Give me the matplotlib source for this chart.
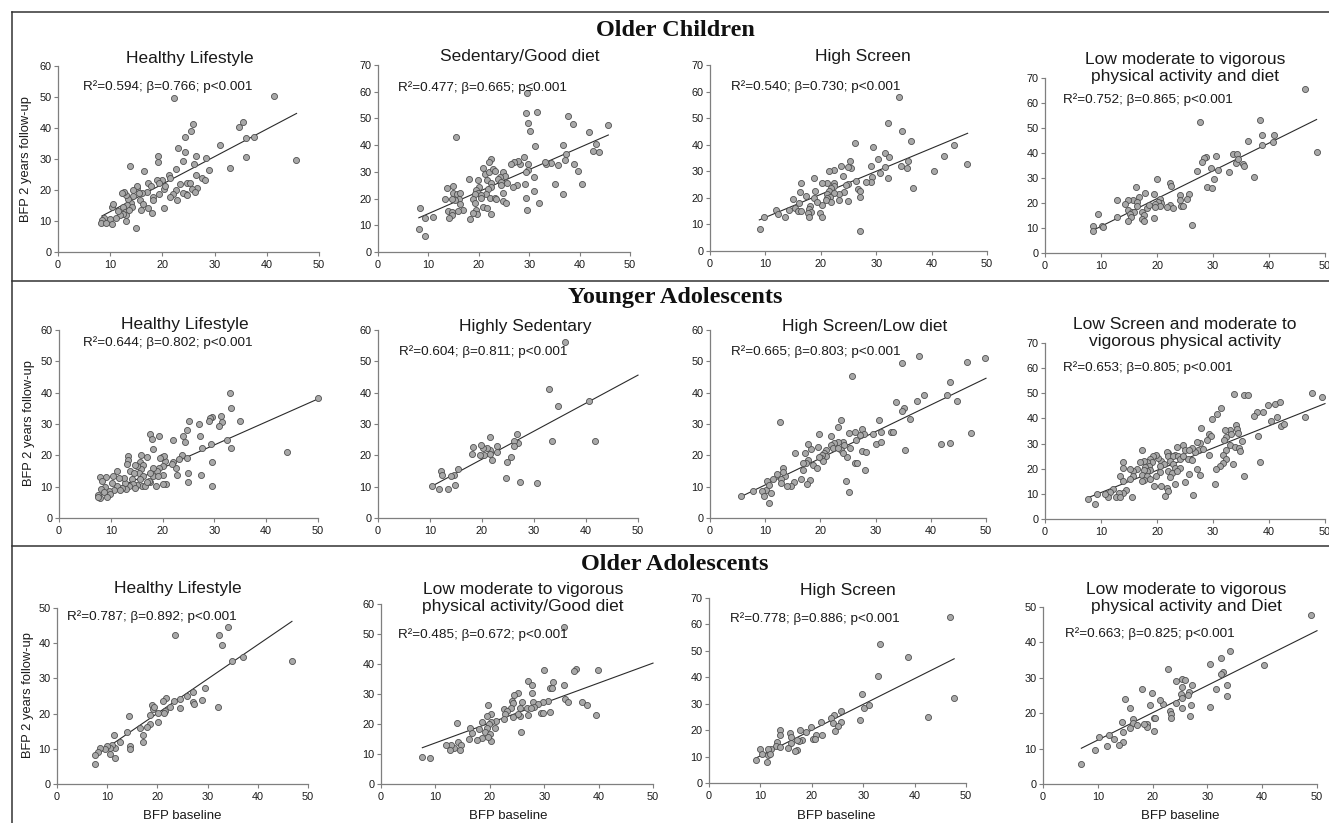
import matplotlib
matplotlib.use('Agg')
import matplotlib.pyplot as plt
from matplotlib.lines import Line2D

plt.rcParams['font.family'] = ['Liberation Sans', 'DejaVu Sans']

# ---------------- DATA (BFP baseline, BFP 2 years follow-up) ----------------
oc_healthy = [(22.2,49.6),(41.3,50.4),(45.5,29.8),(25.8,41.3),(25.4,39.1),(24.4,37.2),(23.0,33.7),(19.2,30.9),(19.2,29.1),(13.8,27.8),(16.5,26.2),(31.1,34.5),(34.7,40.2),(35.4,41.8),(36.1,36.9),(37.5,37.0),(36.1,30.5),(32.9,27.2),(28.4,30.2),(29.0,26.6),(26.5,31.0),(26.1,28.3),(24.3,32.1),(24.0,29.3),(22.7,26.9),(21.3,24.8),(21.5,23.9),(20.0,23.2),(19.0,23.2),(19.4,22.1),(17.3,22.3),(17.9,21.2),(23.3,21.8),(24.7,22.3),(25.2,22.3),(26.5,24.8),(27.5,23.9),(28.1,23.2),(26.6,20.5),(25.6,20.3),(26.2,19.2),(24.6,18.6),(23.9,18.9),(22.6,19.9),(22.1,18.6),(21.4,17.8),(22.8,16.9),(24.7,18.3),(20.3,20.2),(20.5,21.3),(19.4,18.6),(18.2,17.8),(18.2,16.7),(17.0,19.4),(16.0,19.1),(15.1,20.5),(15.2,21.2),(14.4,19.9),(14.3,18.0),(15.6,18.9),(15.7,16.7),(16.2,15.4),(15.9,13.7),(17.3,14.3),(18.1,12.7),(20.3,14.3),(13.9,15.8),(13.5,17.0),(13.0,18.5),(12.6,19.4),(12.3,18.9),(13.3,15.1),(12.5,14.5),(14.1,14.5),(12.8,12.9),(13.0,11.9),(12.5,12.4),(11.9,11.9),(11.1,11.1),(13.0,10.0),(10.3,14.5),(10.5,15.6),(9.9,10.8),(8.8,11.1),(8.4,10.2),(8.2,9.4),(9.2,9.4),(10.3,8.9),(14.9,7.9),(11.5,13.3),(13.6,13.7)]

oc_sedentary = [(29.6,59.6),(29.3,51.9),(31.5,52.5),(29.8,48.4),(30.1,45.3),(37.7,50.9),(38.7,48.1),(31.1,39.8),(15.4,42.9),(41.9,44.8),(45.7,47.5),(36.7,40.0),(43.2,40.6),(42.7,37.9),(43.8,37.3),(37.3,36.5),(37.1,34.6),(38.9,32.9),(39.6,30.4),(40.5,25.4),(35.1,25.6),(36.8,21.6),(35.8,32.5),(34.4,33.5),(33.4,32.8),(33.2,33.8),(29.0,35.4),(29.8,33.1),(29.8,30.6),(29.3,29.8),(31.0,28.1),(29.1,25.4),(31.0,22.9),(31.9,18.4),(29.3,20.4),(29.6,15.9),(28.1,32.8),(27.8,34.1),(26.9,33.8),(26.4,32.9),(27.5,25.0),(26.8,24.4),(24.8,29.8),(25.2,28.4),(24.2,28.1),(23.8,27.5),(24.5,26.3),(24.5,25.0),(25.5,25.9),(24.8,21.9),(24.8,19.0),(25.4,18.4),(22.5,34.8),(22.0,33.8),(20.9,31.3),(21.2,29.1),(22.0,30.0),(22.8,31.0),(23.2,30.4),(21.7,27.1),(22.5,25.9),(22.4,24.4),(21.9,23.4),(21.5,21.6),(22.2,20.4),(23.2,20.4),(23.5,19.8),(19.9,27.1),(18.0,27.2),(20.0,24.4),(19.5,23.1),(19.9,22.1),(20.4,21.3),(19.2,21.6),(18.9,20.0),(19.2,18.4),(20.5,20.4),(20.9,16.9),(21.7,16.3),(22.4,14.1),(19.5,15.9),(19.7,14.4),(18.9,14.6),(18.2,12.5),(14.9,24.6),(13.7,23.8),(13.2,20.0),(14.9,21.9),(15.6,21.6),(16.2,22.1),(16.0,20.0),(15.2,19.4),(14.7,20.0),(16.2,18.1),(16.9,15.9),(15.9,15.4),(13.9,15.4),(14.6,14.8),(14.7,13.8),(14.0,12.8),(8.3,16.5),(9.4,12.8),(11.0,13.1),(8.1,8.5),(9.4,6.0)]

oc_screen = [(34.1,58.1),(32.2,48.1),(34.6,45.3),(36.3,41.4),(26.2,40.5),(29.4,39.3),(44.0,39.9),(42.3,35.9),(46.4,32.7),(40.5,30.1),(36.7,23.8),(31.6,36.8),(30.3,34.5),(32.3,35.3),(35.7,33.9),(34.5,32.1),(35.6,31.4),(31.6,31.7),(29.1,32.1),(30.6,29.2),(29.2,28.0),(29.1,25.8),(28.2,26.1),(32.2,27.4),(26.4,26.5),(25.3,34.0),(25.5,31.1),(24.9,31.7),(23.7,32.0),(24.0,28.2),(24.9,25.1),(24.6,24.8),(24.1,22.3),(23.3,21.5),(23.2,19.2),(24.9,18.8),(26.8,23.2),(27.0,22.7),(27.1,20.2),(27.1,7.7),(22.3,30.5),(21.4,30.1),(22.3,25.5),(22.4,24.6),(21.1,25.5),(20.3,25.5),(21.8,23.6),(21.5,22.6),(22.3,22.0),(21.2,21.5),(21.7,20.2),(21.1,19.8),(21.9,18.6),(20.9,19.2),(20.3,17.3),(19.9,14.4),(20.2,12.9),(18.8,27.4),(18.9,22.6),(18.8,19.8),(19.3,18.6),(17.3,20.8),(16.4,25.5),(16.2,22.3),(15.0,19.6),(15.4,16.3),(16.1,18.2),(15.8,15.2),(16.4,15.2),(18.1,17.0),(17.9,15.7),(18.2,14.6),(17.6,14.2),(17.9,12.9),(14.3,15.4),(13.5,12.9),(11.9,15.4),(12.2,13.8),(9.7,12.9),(9.0,8.2)]

oc_lowmvpa_diet = [(46.4,65.5),(27.7,52.5),(38.4,53.1),(36.3,44.9),(38.8,47.1),(40.9,47.1),(38.8,43.4),(40.8,44.5),(48.5,40.5),(37.4,30.5),(33.6,39.8),(34.3,39.8),(34.1,36.1),(34.5,37.8),(35.3,35.5),(35.5,34.9),(30.5,38.8),(28.7,38.5),(28.4,38.1),(28.0,36.5),(29.6,34.1),(30.9,33.2),(32.9,32.3),(27.2,32.8),(30.2,29.6),(29.0,26.6),(29.8,25.9),(22.3,27.9),(22.5,26.8),(20.0,29.6),(24.1,23.2),(25.8,23.6),(24.1,21.2),(25.3,21.5),(24.3,19.0),(24.7,18.9),(22.3,19.3),(22.8,17.9),(21.7,18.6),(20.5,21.6),(20.8,20.2),(20.1,20.6),(19.6,19.5),(20.5,19.0),(19.6,18.3),(19.5,23.6),(19.5,13.9),(17.9,23.9),(16.2,26.3),(16.7,22.6),(15.8,21.2),(14.9,21.2),(14.3,19.7),(16.5,20.6),(16.4,19.0),(14.9,17.3),(15.5,16.6),(15.9,16.3),(15.1,15.7),(15.4,14.6),(14.9,12.9),(17.4,16.6),(17.6,15.3),(18.3,17.9),(18.5,19.2),(17.4,13.7),(17.7,13.0),(12.9,21.2),(12.8,14.3),(9.4,15.5),(8.5,10.9),(8.5,9.0),(10.1,10.9),(10.4,10.4),(26.3,11.3)]

ya_healthy = [(50.0,38.2),(33.0,40.0),(33.3,35.0),(35.0,31.0),(31.3,32.6),(31.4,30.5),(30.8,29.5),(29.6,32.1),(29.1,31.8),(29.0,31.1),(25.0,31.0),(27.0,29.9),(32.4,24.9),(33.3,22.3),(27.7,22.3),(27.2,26.2),(24.7,28.1),(24.0,26.3),(24.3,24.2),(22.1,24.9),(29.3,23.6),(29.6,17.8),(29.6,10.1),(44.1,21.1),(27.4,13.8),(24.9,14.3),(24.9,11.5),(22.6,15.9),(22.7,13.8),(23.7,20.2),(24.7,19.3),(23.1,18.8),(22.1,18.0),(21.9,17.2),(20.5,18.3),(19.4,26.3),(17.6,26.9),(17.9,25.2),(18.2,22.1),(16.9,19.6),(19.8,19.4),(20.3,19.9),(19.5,19.0),(20.1,16.5),(19.4,16.1),(18.9,14.9),(18.2,15.9),(18.2,13.5),(17.5,14.5),(20.1,13.8),(19.2,13.5),(20.7,10.9),(20.1,10.9),(18.7,10.3),(17.6,11.4),(17.3,11.9),(15.8,20.2),(15.7,18.0),(16.2,17.0),(15.8,15.6),(15.0,16.5),(14.7,17.0),(15.5,14.3),(16.2,13.3),(15.7,12.4),(16.0,10.3),(15.0,10.4),(16.6,10.1),(16.9,11.4),(13.4,19.9),(13.4,18.6),(13.2,17.2),(13.7,14.9),(14.4,14.3),(14.1,12.5),(14.2,10.9),(14.6,9.6),(13.6,10.1),(12.8,11.1),(12.5,12.7),(13.0,9.3),(12.1,9.6),(11.2,10.1),(11.8,8.8),(11.2,14.9),(11.5,12.7),(10.5,13.3),(10.2,11.1),(10.7,8.8),(9.6,8.5),(8.9,9.9),(9.1,13.1),(8.0,13.1),(8.3,11.7),(8.2,9.2),(8.6,8.3),(9.8,7.6),(7.6,7.4),(8.0,6.4),(7.5,6.7),(9.2,6.7)]

ya_sedentary = [(36.0,56.1),(32.8,41.2),(34.7,35.9),(40.5,37.2),(33.4,24.6),(41.8,24.6),(30.5,11.1),(27.3,11.5),(24.6,12.7),(26.8,26.9),(27.0,23.9),(26.2,24.6),(26.2,23.1),(25.5,19.4),(24.9,17.8),(21.5,26.0),(22.8,23.0),(22.9,21.0),(22.0,18.6),(21.5,21.8),(20.9,22.3),(20.2,22.5),(19.9,23.4),(21.5,20.5),(20.4,20.2),(19.6,20.0),(18.3,22.6),(18.0,20.5),(15.4,15.6),(14.6,13.6),(14.1,13.5),(14.9,10.6),(12.2,15.1),(12.4,13.8),(11.7,9.2),(13.4,9.2),(10.3,10.3)]

ya_screen_lowdiet = [(37.8,51.7),(49.8,51.2),(46.6,49.9),(34.7,49.4),(25.8,45.3),(43.4,43.5),(42.9,39.4),(44.7,37.3),(38.7,39.2),(37.5,37.3),(33.7,37.1),(35.1,35.2),(34.8,34.1),(36.2,31.6),(47.2,27.0),(41.8,23.5),(43.5,23.8),(35.4,21.6),(30.7,31.2),(31.0,27.5),(32.7,27.5),(33.1,27.5),(29.6,26.8),(30.1,23.5),(30.9,24.3),(23.7,31.2),(23.1,29.1),(12.7,30.5),(27.5,28.4),(27.9,26.8),(27.2,26.4),(26.3,27.3),(25.1,27.2),(26.4,24.8),(27.5,21.4),(28.3,21.1),(26.2,17.7),(26.6,17.4),(28.1,15.2),(25.4,22.5),(24.8,19.5),(24.1,24.3),(24.3,23.2),(23.7,21.6),(24.1,20.6),(23.1,24.3),(22.5,23.8),(21.9,26.1),(21.9,23.2),(22.2,22.2),(23.1,22.2),(21.1,21.6),(20.7,20.9),(21.0,19.8),(20.2,20.0),(20.1,19.0),(20.4,18.2),(19.8,19.5),(19.7,26.7),(24.6,11.8),(25.2,8.3),(19.5,22.7),(18.3,21.9),(17.8,23.6),(17.2,20.9),(17.7,18.4),(17.4,17.4),(16.9,17.4),(18.6,16.8),(19.4,16.1),(16.8,15.4),(16.5,12.6),(18.2,12.0),(17.6,11.0),(15.4,20.6),(15.2,11.5),(14.7,10.2),(13.5,13.4),(13.2,15.8),(13.2,14.7),(14.0,10.2),(12.9,12.4),(12.1,13.9),(11.5,12.4),(12.9,11.3),(10.3,11.8),(10.2,8.8),(10.6,10.4),(9.5,8.5),(9.7,7.0),(11.1,8.1),(10.7,4.8),(7.7,8.5),(5.7,7.0)]

ya_lowscreen_mvpa = [(47.7,50.1),(49.5,48.5),(33.8,49.9),(35.5,49.5),(36.3,49.5),(31.5,44.2),(30.7,41.8),(29.9,39.8),(39.9,45.5),(41.0,45.8),(42.0,46.6),(37.8,42.4),(39.0,42.6),(37.3,40.9),(41.4,40.6),(40.3,38.9),(42.1,36.9),(42.6,37.9),(46.4,40.6),(38.1,33.2),(38.4,22.5),(34.1,37.3),(34.2,35.9),(34.4,34.2),(33.0,35.5),(32.1,35.3),(33.2,34.0),(32.4,32.5),(31.9,31.6),(35.1,31.2),(33.0,29.6),(33.9,28.5),(34.7,28.2),(34.9,26.9),(32.4,27.6),(31.8,25.6),(32.3,24.0),(31.7,22.3),(31.3,21.0),(30.5,19.9),(33.5,22.0),(35.5,17.0),(30.4,14.1),(29.2,34.0),(29.7,32.9),(28.9,31.6),(27.9,36.2),(27.7,30.2),(27.1,30.6),(27.4,27.6),(26.8,26.5),(28.2,27.8),(29.2,25.6),(26.2,28.4),(27.1,19.9),(27.7,17.6),(24.6,29.6),(25.0,27.6),(25.7,27.6),(25.6,23.9),(26.2,23.6),(25.8,18.0),(25.0,14.6),(26.4,9.7),(23.5,28.5),(23.2,25.6),(22.0,26.3),(21.7,26.5),(22.0,25.2),(22.9,24.9),(23.8,24.9),(24.1,23.9),(24.7,24.9),(22.3,22.9),(22.9,22.0),(23.2,20.3),(24.1,20.3),(22.0,19.0),(22.6,18.3),(23.5,19.2),(22.3,16.9),(23.3,14.1),(20.8,22.9),(21.3,22.0),(20.2,24.3),(19.9,25.6),(19.3,25.2),(20.5,21.0),(20.5,18.6),(19.9,17.2),(20.8,13.0),(21.7,12.3),(22.0,11.3),(21.4,9.3),(19.5,13.0),(18.8,23.9),(19.1,22.5),(18.2,22.5),(17.6,22.9),(17.0,22.5),(18.5,21.0),(17.9,20.7),(18.8,19.6),(18.2,19.0),(17.6,19.4),(17.3,17.6),(18.2,17.0),(18.8,15.9),(17.6,15.6),(17.3,15.0),(17.4,27.3),(16.4,19.9),(15.8,19.0),(15.2,20.0),(15.7,17.0),(15.2,15.9),(15.5,8.6),(14.0,22.5),(13.9,20.3),(13.4,17.0),(13.9,15.3),(14.5,11.7),(14.0,10.3),(13.3,10.3),(12.7,8.8),(13.4,8.8),(12.2,11.9),(11.6,10.7),(11.3,8.8),(10.7,10.1),(9.2,9.9),(8.9,6.0),(7.6,8.1)]

oa_healthy = [(34.0,44.6),(32.3,42.2),(23.5,42.2),(32.8,39.4),(34.9,35.0),(37.1,36.2),(46.8,35.0),(29.5,27.4),(27.0,26.1),(25.8,24.9),(24.5,24.2),(23.3,23.7),(21.8,24.4),(21.2,23.7),(27.0,23.4),(27.2,22.8),(28.8,23.9),(24.5,21.7),(32.1,21.8),(22.6,22.0),(18.9,22.5),(19.2,21.3),(19.3,22.0),(21.5,20.8),(21.3,20.1),(20.2,20.1),(18.5,19.6),(20.2,17.5),(18.5,17.0),(18.0,16.3),(16.6,15.8),(17.2,13.9),(17.2,12.0),(14.4,19.4),(13.9,14.7),(14.6,10.9),(14.6,9.9),(11.3,13.9),(12.6,11.9),(11.6,10.3),(10.9,11.1),(10.6,10.3),(9.9,10.9),(9.6,10.0),(8.6,10.2),(8.1,9.2),(7.6,8.1),(10.6,8.5),(11.6,7.3),(7.6,5.6)]

oa_lowmvpa_gooddiet = [(33.7,52.2),(30.0,38.1),(35.9,38.4),(35.5,37.8),(39.9,38.1),(27.1,34.4),(27.7,33.1),(31.7,34.0),(31.1,32.0),(31.5,32.0),(33.7,33.1),(27.7,30.5),(25.1,30.5),(24.5,29.7),(24.0,27.8),(24.2,26.9),(25.9,27.5),(27.9,27.5),(33.8,28.4),(34.4,27.5),(36.9,27.5),(37.9,26.4),(39.6,23.1),(30.7,27.8),(29.8,27.3),(28.9,26.7),(28.2,25.8),(25.5,25.5),(23.9,25.5),(22.7,24.9),(23.1,24.4),(26.8,25.3),(27.6,25.3),(29.5,23.8),(29.8,23.6),(31.1,23.9),(27.0,23.1),(25.5,22.7),(25.1,23.4),(24.3,22.5),(22.8,23.3),(22.7,21.6),(25.7,17.5),(21.1,21.0),(19.7,26.4),(20.2,23.3),(19.4,22.7),(20.2,20.8),(20.9,18.6),(19.9,20.0),(19.4,18.6),(19.1,17.3),(20.1,16.6),(20.2,14.4),(19.7,15.8),(18.5,20.8),(18.1,18.3),(18.5,15.5),(17.6,14.7),(16.4,18.8),(16.7,16.9),(16.1,14.9),(13.9,20.5),(14.2,14.1),(14.7,13.0),(13.5,12.1),(12.8,13.0),(11.9,13.0),(12.7,11.5),(14.5,11.4),(7.6,9.1),(9.0,8.8)]

oa_screen = [(46.9,62.8),(33.2,52.6),(38.7,47.5),(32.9,40.4),(47.6,32.2),(29.8,33.7),(30.1,28.4),(31.1,29.4),(42.6,25.0),(29.3,24.0),(25.7,27.4),(24.4,25.9),(23.8,24.6),(25.6,23.2),(24.1,22.7),(21.7,23.1),(25.1,21.4),(24.5,19.5),(21.9,18.0),(20.9,18.3),(19.8,21.1),(18.9,19.3),(17.8,19.9),(20.2,16.6),(20.6,16.6),(18.1,16.1),(17.5,15.8),(17.2,16.4),(15.7,18.9),(15.9,17.4),(16.0,15.1),(15.4,13.2),(17.2,12.6),(16.7,12.0),(13.8,19.9),(13.9,18.0),(13.3,15.4),(13.1,14.1),(13.8,13.6),(12.0,12.9),(11.4,12.9),(11.5,10.7),(11.8,11.1),(9.9,12.9),(10.4,11.1),(9.2,8.8),(11.3,7.9)]

oa_lowmvpa_diet = [(48.9,47.8),(34.1,37.5),(32.4,35.6),(30.4,33.9),(40.3,33.5),(32.8,31.6),(32.4,31.1),(22.8,32.5),(33.6,28.0),(31.6,26.9),(33.6,24.9),(30.4,21.7),(25.4,29.7),(26.0,29.4),(24.3,29.2),(27.1,28.0),(25.4,27.3),(26.6,25.9),(26.5,25.2),(25.1,25.4),(25.3,24.2),(24.3,22.8),(27.0,22.4),(25.4,21.6),(26.9,19.3),(23.2,20.7),(23.4,19.7),(23.4,18.6),(21.9,22.5),(21.3,23.6),(19.9,25.7),(18.1,26.9),(19.5,22.4),(20.2,18.6),(20.5,18.6),(20.3,15.1),(19.0,17.0),(19.0,16.2),(18.4,17.0),(16.4,18.3),(16.5,17.2),(17.1,16.7),(15.8,15.9),(15.8,21.4),(14.9,24.1),(14.5,17.6),(14.6,14.8),(14.6,12.0),(13.9,11.0),(13.0,12.6),(12.0,13.9),(10.3,13.4),(11.6,10.8),(9.5,9.6),(7.0,5.6)]

panel_data = [oc_healthy, oc_sedentary, oc_screen, oc_lowmvpa_diet,
              ya_healthy, ya_sedentary, ya_screen_lowdiet, ya_lowscreen_mvpa,
              oa_healthy, oa_lowmvpa_gooddiet, oa_screen, oa_lowmvpa_diet]

panel_titles = ["Healthy Lifestyle", "Sedentary/Good diet", "High Screen",
                "Low moderate to vigorous\nphysical activity and diet",
                "Healthy Lifestyle", "Highly Sedentary", "High Screen/Low diet",
                "Low Screen and moderate to\nvigorous physical activity",
                "Healthy Lifestyle", "Low moderate to vigorous\nphysical activity/Good diet",
                "High Screen", "Low moderate to vigorous\nphysical activity and Diet"]

panel_stats = ["R²=0.594; β=0.766; p<0.001", "R²=0.477; β=0.665; p≤0.001",
               "R²=0.540; β=0.730; p<0.001", "R²=0.752; β=0.865; p<0.001",
               "R²=0.644; β=0.802; p<0.001", "R²=0.604; β=0.811; p<0.001",
               "R²=0.665; β=0.803; p<0.001", "R²=0.653; β=0.805; p<0.001",
               "R²=0.787; β=0.892; p<0.001", "R²=0.485; β=0.672; p<0.001",
               "R²=0.778; β=0.886; p<0.001", "R²=0.663; β=0.825; p<0.001"]

y_max = [60, 70, 70, 70, 60, 60, 60, 70, 50, 60, 70, 50]

# regression line end points
fit_x0 = [8.4, 8.1, 8.9, 8.5, 7.6, 10.3, 5.7, 7.6, 7.6, 7.6, 9.2, 7.0]
fit_y0 = [11.6, 12.8, 11.7, 9.0, 6.9, 10.1, 6.9, 8.4, 8.0, 12.1, 9.5, 10.1]
fit_x1 = [45.7, 45.7, 46.5, 48.5, 50.0, 50.0, 50.0, 50.0, 46.8, 50.0, 47.7, 50.0]
fit_y1 = [44.7, 43.8, 44.3, 53.4, 38.0, 45.6, 44.6, 45.9, 46.2, 40.3, 47.0, 43.3]

section_titles = ["Older Children", "Younger Adolescents", "Older Adolescents"]
y_label = "BFP 2 years follow-up"
x_label = "BFP baseline"

# ---------------- LAYOUT (pixels) ----------------
W, H = 1329, 823
fig = plt.figure(figsize=(W / 100, H / 100), dpi=100)

def fx(px):
    return px / W

def fy(py):
    return 1 - py / H

# (left, top, right, bottom) of each plotting area in pixels
axes_px = [(58, 66, 319, 252), (378, 65, 630, 252), (710, 65, 987, 251), (1045, 78, 1325, 253),
           (59, 330, 318, 518), (378, 330, 638, 518), (710, 330, 986, 518), (1045, 343, 1325, 519),
           (57, 608, 308, 784), (381, 604, 653, 784), (709, 598, 966, 783), (1043, 607, 1317, 784)]
title_px = [(190, 58), (520, 57), (863, 57), (1185, 68),
            (185, 325), (525, 326), (865, 326), (1185, 333),
            (178, 588), (523, 598), (848, 590), (1186, 598)]
stat_px = [(83, 87), (398, 88), (731, 87), (1063, 100),
           (83, 343), (399, 352), (731, 352), (1063, 368),
           (67, 617), (398, 635), (730, 619), (1065, 634)]

spine_c = '#7f7f7f'
text_c = '#1a1a1a'

for i, (pts, (l, t, r, b)) in enumerate(zip(panel_data, axes_px)):
    ax = fig.add_axes([fx(l), fy(b), fx(r) - fx(l), fy(t) - fy(b)])
    xs = [p[0] for p in pts]
    ys = [p[1] for p in pts]
    ax.plot([fit_x0[i], fit_x1[i]], [fit_y0[i], fit_y1[i]], color='#2b2b2b', lw=0.8,
            clip_on=False, zorder=2)
    ax.scatter(xs, ys, s=19, facecolor='#a8a8a8', edgecolor='#505050', linewidth=0.6,
               clip_on=False, zorder=3)
    ax.set_xlim(0, 50)
    ax.set_ylim(0, y_max[i])
    ax.set_xticks(range(0, 51, 10))
    ax.set_yticks(range(0, y_max[i] + 1, 10))
    ax.patch.set_alpha(0)
    for s in ['top', 'right']:
        ax.spines[s].set_visible(False)
    for s in ['left', 'bottom']:
        ax.spines[s].set_color(spine_c)
        ax.spines[s].set_linewidth(0.9)
    ax.tick_params(direction='out', length=3, width=0.8, color=spine_c,
                   labelsize=7.8, labelcolor=text_c)
    ax.tick_params(axis='x', pad=3)
    ax.tick_params(axis='y', pad=1.5)
    tx, ty = title_px[i]
    fig.text(fx(tx), fy(ty), panel_titles[i], ha='center', va='center',
             multialignment='center', fontsize=12.5, color=text_c, linespacing=1.12)
    sx, sy = stat_px[i]
    fig.text(fx(sx), fy(sy), panel_stats[i], ha='left', va='center', fontsize=9.7,
             color=text_c)

# y labels
for px, py in [(26, 159), (29, 423), (28, 695)]:
    fig.text(fx(px), fy(py), y_label, rotation=90, ha='center', va='center',
             fontsize=9.3, color=text_c)
# x labels
for px in [182, 508, 836, 1180]:
    fig.text(fx(px), fy(816), x_label, ha='center', va='center', fontsize=9.5, color=text_c)

# section titles
for title, py in zip(section_titles, [30, 297, 564]):
    fig.text(fx(675), fy(py), title, ha='center', va='center', fontsize=17.5,
             fontweight='bold', family=['Liberation Serif', 'DejaVu Serif'], color='#111111')

# frame lines
lc = '#333333'
fig.add_artist(Line2D([fx(12), fx(12)], [fy(12), fy(823)], color=lc, lw=1.1))
for py in [12, 281, 546]:
    fig.add_artist(Line2D([fx(12), 1], [fy(py), fy(py)], color=lc, lw=1.1))

fig.savefig('out.png', dpi=100)
